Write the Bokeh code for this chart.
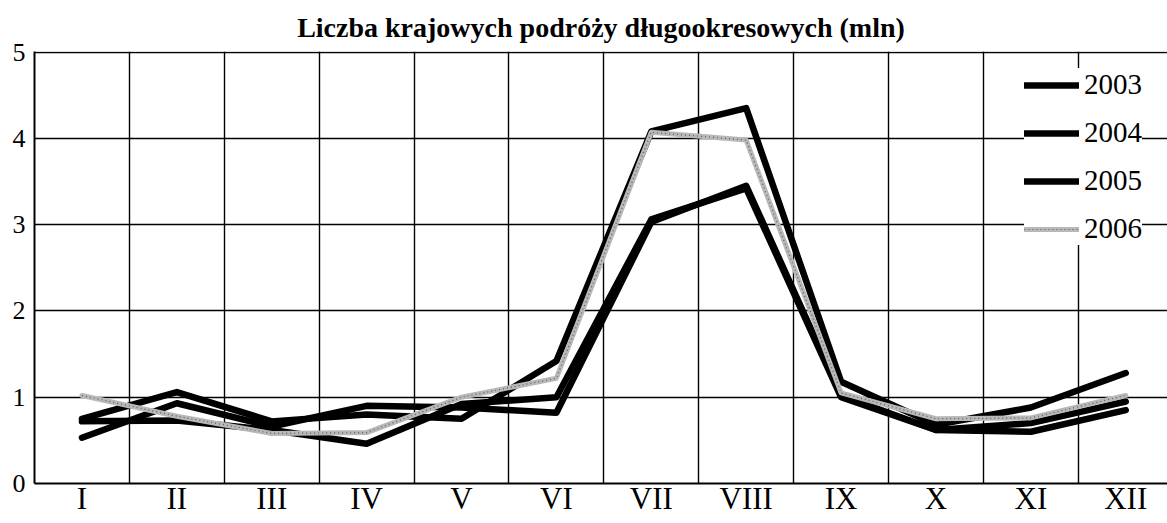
from bokeh.plotting import figure
from bokeh.models import Range1d, FixedTicker, Grid, Legend, LegendItem
from bokeh.embed import file_html
from bokeh.resources import INLINE

months = ["I", "II", "III", "IV", "V", "VI", "VII", "VIII", "IX", "X", "XI", "XII"]
x = list(range(1, 13))
y2003 = [0.75, 1.06, 0.72, 0.80, 0.75, 1.42, 4.08, 4.35, 1.18, 0.68, 0.88, 1.28]
y2004 = [0.53, 0.93, 0.66, 0.90, 0.88, 0.82, 3.03, 3.45, 1.02, 0.62, 0.60, 0.85]
y2005 = [0.72, 0.73, 0.62, 0.46, 0.92, 1.00, 3.06, 3.42, 1.00, 0.62, 0.70, 0.95]
y2006 = [1.02, 0.78, 0.58, 0.59, 1.00, 1.22, 4.07, 3.98, 1.05, 0.75, 0.76, 1.02]
yticks = [0, 1, 2, 3, 4, 5]

FONT = "Liberation Serif"

p = figure(width=1167, height=523, x_range=Range1d(0.5, 12.44), y_range=Range1d(0, 5.006),
           output_backend="svg", toolbar_location=None,
           min_border_left=34, min_border_right=0, min_border_top=49, min_border_bottom=40)
p.outline_line_color = None
p.background_fill_color = "white"
p.border_fill_color = "white"

p.title.text = "Liczba krajowych podróży długookresowych (mln)"
p.title.align = "center"
p.title.text_font = FONT
p.title.text_font_size = "28px"
p.title.text_font_style = "bold"
p.title.text_color = "black"
p.title.standoff = 18

# axes
p.xaxis.ticker = FixedTicker(ticks=x)
p.xaxis.major_label_overrides = {i: m for i, m in zip(x, months)}
p.yaxis.ticker = FixedTicker(ticks=yticks)
for ax, size in ((p.xaxis, "31px"), (p.yaxis, "26px")):
    ax.major_label_text_font = FONT
    ax.major_label_text_font_size = size
    ax.major_label_text_color = "black"
    ax.major_tick_line_color = None
    ax.minor_tick_line_color = None
    ax.major_tick_out = 0
    ax.major_tick_in = 0
    ax.minor_tick_out = 0
    ax.axis_line_color = "black"
    ax.axis_line_width = 2
p.xaxis.major_label_standoff = -3
p.yaxis.major_label_standoff = 9

# grids
p.xgrid.visible = False
p.ygrid.grid_line_color = "black"
p.ygrid.grid_line_width = 1.4
vgrid = Grid(dimension=0, ticker=FixedTicker(ticks=[i + 0.5 for i in x[:-1]]),
             grid_line_color="black", grid_line_width=1.4)
p.add_layout(vgrid)

lw = 6.5
r03 = p.line(x, y2003, line_color="black", line_width=lw, line_join="round", line_cap="round")
r04 = p.line(x, y2004, line_color="black", line_width=lw, line_join="round", line_cap="round")
r05 = p.line(x, y2005, line_color="black", line_width=lw, line_join="round", line_cap="round")
r06a = p.line(x, y2006, line_color="#b8b8b8", line_width=5, line_join="round", line_cap="round")
r06b = p.line(x, y2006, line_color="#5a5a5a", line_width=1.2, line_dash="1 3", line_join="round")

legend = Legend(items=[
    LegendItem(label="2003", renderers=[r03]),
    LegendItem(label="2004", renderers=[r04]),
    LegendItem(label="2005", renderers=[r05]),
    LegendItem(label="2006", renderers=[r06a, r06b]),
], location=(990, 238))
legend.label_text_font = FONT
legend.label_text_font_size = "29px"
legend.label_text_color = "black"
legend.glyph_width = 55
legend.glyph_height = 26
legend.label_height = 26
legend.label_standoff = 5
legend.spacing = 15
legend.padding = 12
legend.margin = 0
legend.border_line_color = None
legend.background_fill_color = "white"
legend.background_fill_alpha = 1
p.add_layout(legend)

open("out.html", "w").write(file_html(p, INLINE))
